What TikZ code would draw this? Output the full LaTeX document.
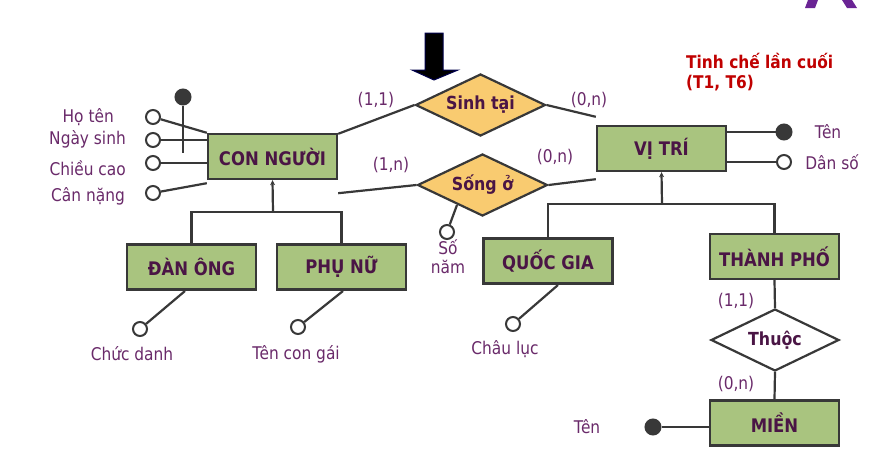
\documentclass[tikz,border=0pt]{standalone}
\usepackage{fontspec}
\setmainfont{DejaVu Sans}[FakeStretch=0.88]
\usetikzlibrary{shapes.geometric,arrows.meta}
\definecolor{boxfill}{HTML}{A9C47F}
\definecolor{edge}{HTML}{383838}
\definecolor{titletxt}{HTML}{4A1545}
\definecolor{attrtxt}{HTML}{6A2A6A}
\definecolor{relfill}{HTML}{F9CB70}
\definecolor{redtxt}{HTML}{C00000}
\definecolor{logo}{HTML}{6A2494}
\tikzset{
  entity/.style={draw=edge, line width=2.4pt, fill=boxfill, minimum width=129pt, minimum height=45pt, inner sep=0pt, font=\fontsize{18.7}{20}\selectfont\bfseries, text=titletxt},
  rel/.style={draw=edge, line width=2.2pt, fill=relfill, diamond, aspect=2.05, minimum width=130pt, minimum height=62pt, inner sep=0pt, font=\fontsize{18}{20}\selectfont\bfseries, text=titletxt},
  attr/.style={draw=edge, line width=2pt, fill=white, circle, minimum size=14pt, inner sep=0pt},
  keyattr/.style={draw=edge, line width=2pt, fill=edge, circle, minimum size=15pt, inner sep=0pt},
  lbl/.style={font=\fontsize{17.5}{19}\selectfont, text=attrtxt, inner sep=0pt},
  card/.style={font=\fontsize{17.5}{19}\selectfont, text=attrtxt, inner sep=0pt},
  conn/.style={draw=edge, line width=2.2pt},
}
\begin{document}
\begin{tikzpicture}[x=1pt,y=-1pt]
\useasboundingbox (0,0) rectangle (884,474);
\fill[white] (0,0) rectangle (884,474);
% logo fragment
\fill[logo] (808,0) -- (818,0) -- (815,8) -- (805,8) -- cycle;
\fill[logo] (842,0) -- (852,0) -- (857,8) -- (847,8) -- cycle;
% entities
\node[entity] (cn) at (272.5,156.5) {CON NGƯỜI};
\node[entity] (vt) at (661.5,148.5) {VỊ TRÍ};
\node[entity] (do) at (191.5,267) {ĐÀN ÔNG};
\node[entity] (pn) at (341.5,267) {PHỤ NỮ};
\node[entity] (qg) at (548,261) {QUỐC GIA};
\node[entity] (tp) at (774.5,256.5) {THÀNH PHỐ};
\node[entity] (mi) at (774.5,423) {MIỀN};
% relationships
\node[rel] (st) at (480.5,105) {Sinh tại};
\node[rel] (so) at (482.5,185) {Sống ở};
\node[rel, fill=white, minimum width=128pt] (th) at (775,340) {Thuộc};
% big arrow
\filldraw[fill=black, draw=blue!30!black, line width=1pt] (425,33) -- (443,33) -- (443,70) -- (458,70) -- (434,80) -- (412,70) -- (425,70) -- cycle;
% red note
\node[anchor=west, font=\fontsize{17.5}{20}\selectfont\bfseries, text=redtxt, inner sep=0pt, align=left] (note) at (686,72) {Tinh chế lần cuối\\(T1, T6)};
% attributes of CON NGUOI
\node[attr] (a1) at (153,117) {};
\node[attr] (a2) at (153,140) {};
\node[attr] (a3) at (153,163) {};
\node[attr] (a4) at (153,193) {};
\node[keyattr] (k1) at (183,97) {};
\coordinate (k1e) at (183,153);
\draw[conn] (a1) -- (cn.north west);
\draw[conn] (a2) -- (cn.west |- a2);
\draw[conn] (a3) -- (cn.west |- a3);
\draw[conn] (a4) -- ([yshift=-3pt]cn.south west);
\draw[conn] (k1) -- (k1e);
\node[lbl, anchor=east] (t1) at (114,117) {Họ tên};
\node[lbl, anchor=east] (t2) at (126,139) {Ngày sinh};
\node[lbl, anchor=east] (t3) at (126,168) {Chiều cao};
\node[lbl, anchor=east] (t4) at (125,196) {Cân nặng};
% relationship connectors
\draw[conn] ([yshift=-1pt]cn.north east) -- (st.west);
\draw[conn] (st.east) -- ([yshift=8pt]vt.north west);
\draw[conn] ([yshift=-13pt]cn.south east) -- (so.west);
\draw[conn] (so.east) -- ([yshift=-7pt]vt.south west);
\node[card] (c1) at (376,100) {(1,1)};
\node[card] (c2) at (589,100) {(0,n)};
\node[card] (c3) at (391,165) {(1,n)};
\node[card] (c4) at (555,157) {(0,n)};
% So nam
\node[attr] (sn) at (447,232) {};
\coordinate (sne) at (457,205);
\draw[conn] (sne) -- (sn);
\node[lbl, align=center] (snt) at (448,257) {Số\\[0pt]năm};
% ISA CON NGUOI
\coordinate (isa1) at (273,212);
\draw[conn] (do.north) |- (isa1) -| (pn.north);
\draw[conn, -{Stealth[length=5pt,width=5pt]}] (isa1) -- (cn.south);
% ISA VI TRI
\coordinate (isa2) at (662,204);
\draw[conn] (qg.north) |- (isa2) -| (tp.north);
\draw[conn, -{Stealth[length=5pt,width=5pt]}] (isa2) -- (vt.south);
% VI TRI attributes
\node[keyattr] (vk) at (784,132) {};
\node[attr] (vd) at (784,162) {};
\draw[conn] (vt.east |- vk) -- (vk);
\draw[conn] (vt.east |- vd) -- (vd);
\node[lbl] (vkt) at (828,132) {Tên};
\node[lbl] (vdt) at (832,162) {Dân số};
% subclass attributes
\node[attr] (cd) at (140,329) {};
\coordinate (cde) at (185,291);
\draw[conn] (cde) -- (cd);
\node[lbl] (cdt) at (132,354) {Chức danh};
\node[attr] (tcg) at (298,327) {};
\coordinate (tcge) at (343,291);
\draw[conn] (tcge) -- (tcg);
\node[lbl] (tcgt) at (296,354) {Tên con gái};
\node[attr] (cl) at (513,324) {};
\coordinate (cle) at (558,285);
\draw[conn] (cle) -- (cl);
\node[lbl] (clt) at (505,349) {Châu lục};
% Thuoc
\draw[conn] (tp.south) -- (th.north);
\draw[conn] (th.south) -- (mi.north);
\node[card] (c5) at (736,301) {(1,1)};
\node[card] (c6) at (736,384) {(0,n)};
% MIEN key
\node[keyattr] (mk) at (653,427) {};
\draw[conn] (mk) -- (mi.west |- mk);
\node[lbl] (mkt) at (587,427) {Tên};
\end{tikzpicture}
\end{document}
